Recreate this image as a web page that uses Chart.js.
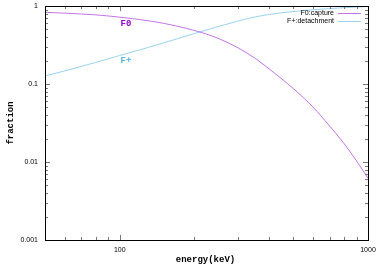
<!DOCTYPE html>
<html>
<head>
<meta charset="utf-8">
<script src="https://cdn.jsdelivr.net/npm/chart.js@4/dist/chart.umd.min.js"></script>
<style>
  html, body { margin: 0; padding: 0; background: #fff; }
  #wrap { width: 382px; height: 264px; }
</style>
</head>
<body>
<div id="wrap"><canvas id="chart" width="382" height="264"></canvas></div>
<script>
// values
const energies = [50, 60, 70, 80, 100, 120, 150, 200, 250, 300, 350, 400, 450, 500, 600, 700, 800, 900, 1000];
const f0Capture = [0.83, 0.81, 0.79, 0.77, 0.72, 0.671, 0.60, 0.485, 0.383, 0.29, 0.215, 0.156, 0.116, 0.0875, 0.0507, 0.029, 0.0173, 0.0103, 0.0062];
const fPlusDetach = [0.127, 0.147, 0.168, 0.189, 0.232, 0.273, 0.336, 0.444, 0.546, 0.642, 0.723, 0.778, 0.818, 0.85, 0.894, 0.926, 0.951, 0.97, 0.985];

const xTickLabels = [100, 1000];
const yTickLabels = [1, 0.1, 0.01, 0.001];
const xMinorTicks = [60, 70, 80, 90, 200, 300, 400, 500, 600, 700, 800, 900];
const yMinorTicks = [0.002, 0.003, 0.004, 0.005, 0.006, 0.007, 0.008, 0.009,
                     0.02, 0.03, 0.04, 0.05, 0.06, 0.07, 0.08, 0.09,
                     0.2, 0.3, 0.4, 0.5, 0.6, 0.7, 0.8, 0.9];
const seriesNames = ["F0:capture", "F+:detachment"];

const purple = "#9400d3";
const blue = "#56b4e9";
const purpleLine = "rgba(148,0,211,0.55)";
const blueLine = "rgba(86,180,233,0.6)";

const gnuplotFrame = {
    id: "gnuplotFrame",
    afterDraw(chart) {
        const ctx = chart.ctx;
        const a = chart.chartArea;
        const xs = chart.scales.x, ys = chart.scales.y;
        ctx.save();

        // ticks, inward on all four sides
        ctx.lineWidth = 1;
        ctx.strokeStyle = "#777";
        const xTick = (v, len) => {
            const px = Math.round(xs.getPixelForValue(v)) + 0.5;
            ctx.beginPath();
            ctx.moveTo(px, a.bottom);
            ctx.lineTo(px, a.bottom - len);
            ctx.moveTo(px, a.top);
            ctx.lineTo(px, a.top + len);
            ctx.stroke();
        };
        const yTick = (v, len) => {
            const py = Math.round(ys.getPixelForValue(v)) + 0.5;
            ctx.beginPath();
            ctx.moveTo(a.left, py);
            ctx.lineTo(a.left + len, py);
            ctx.moveTo(a.right, py);
            ctx.lineTo(a.right - len, py);
            ctx.stroke();
        };
        xTickLabels.forEach(v => xTick(v, 5));
        xMinorTicks.forEach(v => xTick(v, 3));
        yTickLabels.forEach(v => yTick(v, 5));
        yMinorTicks.forEach(v => yTick(v, 3));

        // frame
        ctx.strokeStyle = "#000";
        ctx.strokeRect(a.left + 0.5, a.top + 0.5, a.right - a.left, a.bottom - a.top);

        // tick labels
        ctx.fillStyle = "#000";
        ctx.font = "7px 'Liberation Sans', Arial, sans-serif";
        ctx.textAlign = "right";
        ctx.textBaseline = "middle";
        yTickLabels.forEach(v => ctx.fillText(String(v), a.left - 7, ys.getPixelForValue(v)));
        ctx.textAlign = "center";
        ctx.textBaseline = "top";
        xTickLabels.forEach(v => ctx.fillText(String(v), xs.getPixelForValue(v), a.bottom + 7));

        // axis titles
        ctx.font = "bold 9px 'Liberation Mono', 'DejaVu Sans Mono', monospace";
        ctx.textBaseline = "alphabetic";
        ctx.fillText("energy(keV)", (a.left + a.right) / 2 - 1, 262);
        ctx.save();
        ctx.translate(11, (a.top + a.bottom) / 2);
        ctx.rotate(-Math.PI / 2);
        ctx.textBaseline = "middle";
        ctx.fillText("fraction", 0, 0);
        ctx.restore();

        // curve labels
        ctx.textAlign = "center";
        ctx.textBaseline = "middle";
        ctx.fillStyle = purple;
        ctx.fillText("F0", 126, 24);
        ctx.fillStyle = blue;
        ctx.fillText("F+", 126, 61);

        // key, top right
        ctx.font = "7px 'Liberation Sans', Arial, sans-serif";
        ctx.textAlign = "right";
        const cols = [purpleLine, blueLine];
        seriesNames.forEach((name, i) => {
            const y = Math.round(13 + i * 7.5);
            ctx.fillStyle = "#000";
            ctx.fillText(name, 334, y);
            ctx.strokeStyle = cols[i];
            ctx.beginPath();
            ctx.moveTo(338, y + 0.5);
            ctx.lineTo(361, y + 0.5);
            ctx.stroke();
        });
        ctx.restore();
    }
};

new Chart(document.getElementById("chart"), {
    type: "line",
    data: {
        labels: energies,
        datasets: [
            {
                label: seriesNames[0],
                data: energies.map((e, i) => ({ x: e, y: f0Capture[i] })),
                borderColor: purpleLine,
                borderWidth: 1,
                pointRadius: 0,
                cubicInterpolationMode: "monotone"
            },
            {
                label: seriesNames[1],
                data: energies.map((e, i) => ({ x: e, y: fPlusDetach[i] })),
                borderColor: blueLine,
                borderWidth: 1,
                pointRadius: 0,
                cubicInterpolationMode: "monotone"
            }
        ]
    },
    options: {
        responsive: false,
        animation: false,
        devicePixelRatio: 1,
        layout: { padding: { left: 45, right: 14, top: 6, bottom: 24 } },
        plugins: {
            legend: { display: false },
            tooltip: { enabled: false }
        },
        scales: {
            x: { type: "logarithmic", min: 50, max: 1000, display: false },
            y: { type: "logarithmic", min: 0.001, max: 1, display: false }
        }
    },
    plugins: [gnuplotFrame]
});
</script>
</body>
</html>
